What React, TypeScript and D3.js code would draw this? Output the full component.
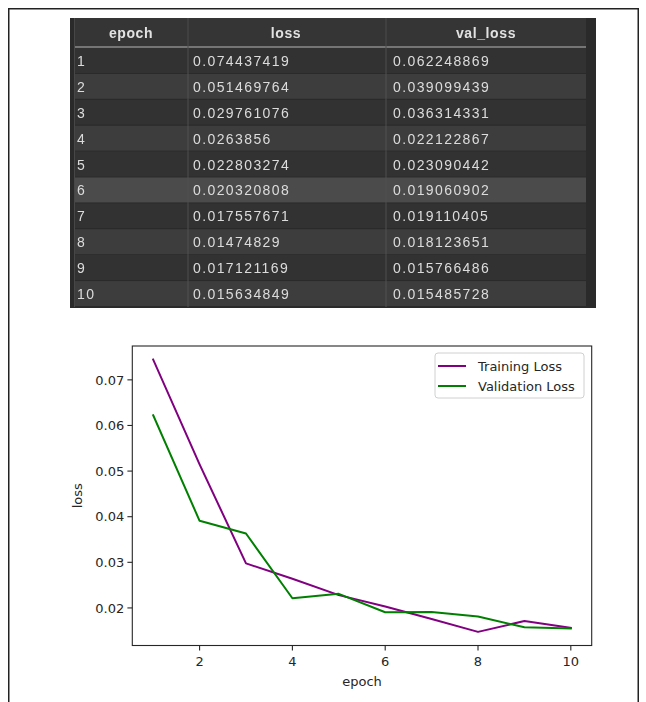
import * as d3 from "d3";

// values from the table screenshot (blurry digits read against the plot)
const epochs = [1, 2, 3, 4, 5, 6, 7, 8, 9, 10];
const loss = [0.074437419, 0.051469764, 0.029761076, 0.0263856, 0.022803274, 0.020320808, 0.017557671, 0.01474829, 0.017121169, 0.015634849];
const valLoss = [0.062248869, 0.039099439, 0.036314331, 0.022122867, 0.023090442, 0.019060902, 0.019110405, 0.018123651, 0.015766486, 0.015485728];
const headers = ["epoch", "loss", "val_loss"];
const xTicks = [2, 4, 6, 8, 10];
const yTicks = [0.02, 0.03, 0.04, 0.05, 0.06, 0.07];
const seriesNames = ["Training Loss", "Validation Loss"];

const W = 646;
const H = 702;

const App = () => {
  // table geometry
  const rowBand = d3.scaleBand<number>().domain(epochs).range([48, 307]);
  const colX = [70, 188, 386, 586];
  const headCenter = [131, 286, 486];
  const rowFill = (i: number) => (i === 5 ? "#4c4c4c" : i % 2 === 0 ? "#333333" : "#3e3e3e");

  // chart geometry
  const plot = { left: 132.3, right: 591.7, top: 346, bottom: 645.5 };
  const all = loss.concat(valLoss);
  const [mn, mx] = d3.extent(all) as [number, number];
  const pad = (mx - mn) * 0.05;
  const x = d3.scaleLinear().domain([0.55, 10.45]).range([plot.left, plot.right]);
  const y = d3.scaleLinear().domain([mn - pad, mx + pad]).range([plot.bottom, plot.top]);

  const line = d3
    .line<number>()
    .x((_, i) => x(epochs[i]))
    .y((d) => y(d));

  const series = [
    { name: seriesNames[0], values: loss, color: "#800080" },
    { name: seriesNames[1], values: valLoss, color: "#008000" },
  ];

  const font = "DejaVu Sans, sans-serif";
  const tfont = "Liberation Sans, Arial, sans-serif";

  return (
    <svg width={W} height={H} style={{ position: "absolute", left: 0, top: 0 }}>
      <defs>
        <filter id="soft" x="-5%" y="-5%" width="110%" height="110%">
          <feGaussianBlur stdDeviation="0.45" />
        </filter>
      </defs>
      <rect x={0} y={0} width={W} height={H} fill="#fff" />
      {/* page border */}
      <path d={`M8.75,${H} V8.75 H638.25 V${H}`} fill="none" stroke="#222" strokeWidth={1.5} />

      {/* table screenshot */}
      <g filter="url(#soft)">
        <rect x={70} y={18} width={526} height={290} fill="#2a2a2a" />
        <rect x={74} y={18} width={512} height={30} fill="#353535" />
        {epochs.map((e, i) => (
          <rect key={e} x={74} y={rowBand(e)} width={512} height={rowBand.bandwidth() - 1} fill={rowFill(i)} />
        ))}
        <line x1={74} x2={586} y1={47} y2={47} stroke="#8a8a8a" strokeWidth={1.5} />
        {colX.slice(1, 3).map((cx) => (
          <line key={cx} x1={cx} x2={cx} y1={18} y2={307} stroke="#4e4e4e" strokeWidth={1} />
        ))}
        <line x1={74.5} x2={74.5} y1={18} y2={307} stroke="#474747" strokeWidth={1} />
        {headers.map((h, i) => (
          <text key={h} x={headCenter[i]} y={38} textAnchor="middle" fontFamily={tfont} fontSize={14}
            fontWeight="bold" fill="#e2e2e2" letterSpacing={0.6}>
            {h}
          </text>
        ))}
        {epochs.map((e, i) => {
          const cy = (rowBand(e) as number) + rowBand.bandwidth() / 2 + 5;
          return (
            <g key={e} fontFamily={tfont} fontSize={14} fill="#dcdcdc" letterSpacing={1.4}>
              <text x={77} y={cy}>{e}</text>
              <text x={193} y={cy}>{String(loss[i])}</text>
              <text x={393} y={cy}>{String(valLoss[i])}</text>
            </g>
          );
        })}
      </g>

      {/* line chart */}
      <g fontFamily={font} fontSize={13} fill="#262626">
        {series.map((s) => (
          <path key={s.name} d={line(s.values) as string} fill="none" stroke={s.color} strokeWidth={2}
            strokeLinejoin="round" strokeLinecap="square" />
        ))}
        <rect x={plot.left} y={plot.top} width={plot.right - plot.left} height={plot.bottom - plot.top}
          fill="none" stroke="#262626" strokeWidth={1.1} />
        {xTicks.map((t) => (
          <g key={t}>
            <line x1={x(t)} x2={x(t)} y1={plot.bottom} y2={plot.bottom + 4.9} stroke="#262626" strokeWidth={1.1} />
            <text x={x(t)} y={plot.bottom + 20} textAnchor="middle">{t}</text>
          </g>
        ))}
        {yTicks.map((t) => (
          <g key={t}>
            <line x1={plot.left - 4.9} x2={plot.left} y1={y(t)} y2={y(t)} stroke="#262626" strokeWidth={1.1} />
            <text x={plot.left - 8} y={y(t) + 4.7} textAnchor="end">{d3.format(".2f")(t)}</text>
          </g>
        ))}
        <text x={(plot.left + plot.right) / 2} y={686} textAnchor="middle">epoch</text>
        <text transform={`translate(82,${(plot.top + plot.bottom) / 2}) rotate(-90)`} textAnchor="middle">loss</text>

        {/* legend */}
        <rect x={435} y={353} width={149} height={45} rx={3} fill="#fff" fillOpacity={0.8} stroke="#d0d0d0" />
        {series.map((s, i) => (
          <g key={s.name}>
            <line x1={438} x2={466} y1={366 + i * 20} y2={366 + i * 20} stroke={s.color} strokeWidth={2} />
            <text x={478} y={370.5 + i * 20}>{s.name}</text>
          </g>
        ))}
      </g>
    </svg>
  );
};

export default App;
